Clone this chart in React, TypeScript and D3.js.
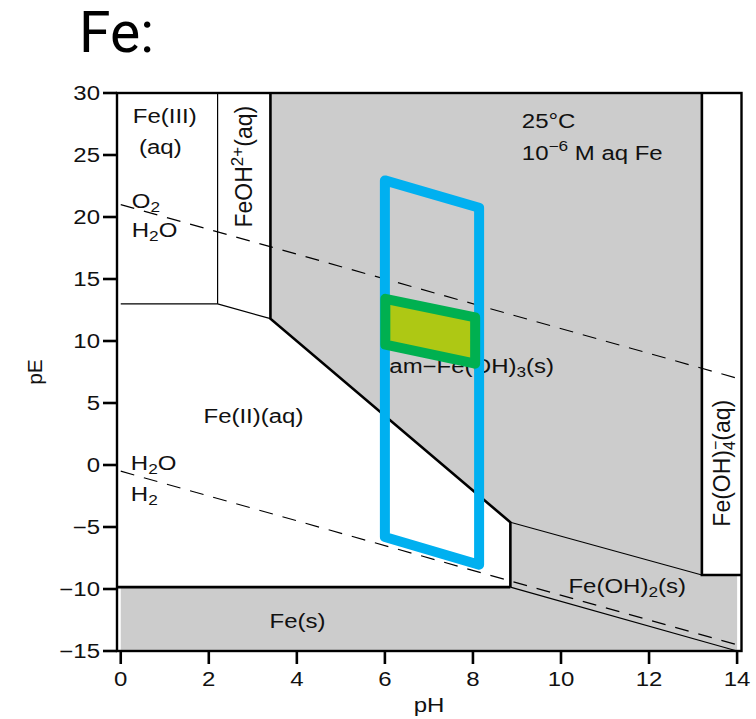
import React from "react";
import * as d3 from "d3";

// ---------- data (pH, pE) ----------
const xTicks = [0, 2, 4, 6, 8, 10, 12, 14];
const yTicks = [30, 25, 20, 15, 10, 5, 0, -5, -10, -15];

const feOH3Region: [number, number][] = [[3.4, 30], [13.2, 30], [13.2, -8.87], [8.85, -4.62], [3.4, 11.8]];
const lowerSolidRegion: [number, number][] = [[0, -9.85], [8.85, -9.85], [8.85, -4.62], [13.2, -8.87], [14, -8.87], [14, -15], [0, -15]];

const thickLines: [number, number][][] = [
  [[3.4, 30], [3.4, 11.8], [8.85, -4.62], [8.85, -9.85]],
  [[-0.085, -9.85], [8.85, -9.85]],
  [[13.2, 30], [13.2, -8.87], [14.1, -8.87]],
];
const thinLines: [number, number][][] = [
  [[0, 13], [2.2, 13], [3.4, 11.8]],
  [[2.2, 13], [2.2, 30]],
  [[8.85, -4.62], [13.2, -8.87]],
  [[8.85, -9.85], [14, -15]],
];
const o2Line: [number, number][] = [[0, 21], [14, 7]];
const h2Line: [number, number][] = [[0, -0.5], [14, -14.5]];

const blueBox: [number, number][] = [[6.0, 22.95], [8.14, 20.75], [8.14, -8.05], [6.0, -5.8]];
const greenBox: [number, number][] = [[6.01, 13.4], [8.05, 11.9], [8.05, 8.17], [6.01, 9.7]];

// ---------- layout ----------
const W = 756, H = 719;
const x = d3.scaleLinear().domain([-0.085, 14.1]).range([117, 741.5]);
const y = d3.scaleLinear().domain([-15, 30]).range([651, 93]);
const line = d3.line<[number, number]>().x(d => x(d[0])).y(d => y(d[1]));
const SX = 1.23;
const FONT = "'Liberation Sans', Arial, Helvetica, sans-serif";
const FS = 19.5;

type TP = { px: number; py: number; anchor?: string; rot?: boolean; size?: number; children: React.ReactNode };
const T = ({ px, py, anchor = "start", rot = false, size = FS, children }: TP) => (
  <g transform={rot ? `translate(${px},${py}) rotate(-90)` : `translate(${px},${py}) scale(${SX},1)`}>
    <text textAnchor={anchor} fontSize={size} fontFamily={FONT} fill="#111">{children}</text>
  </g>
);

export default function App() {
  return (
    <svg width={W} height={H} style={{ position: "absolute", left: 0, top: 0, background: "#fff" }}>
      <text x={79} y={51.7} fontSize={57} fontFamily="Roboto, 'Liberation Sans', sans-serif" fill="#000">Fe:</text>

      {/* regions */}
      <path d={line(feOH3Region) + "Z"} fill="#cccccc" />
      <path d={line(lowerSolidRegion) + "Z"} fill="#cccccc" />

      {thinLines.map((l, i) => <path key={"t" + i} d={line(l) || ""} fill="none" stroke="#000" strokeWidth={1.2} />)}
      {thickLines.map((l, i) => <path key={"k" + i} d={line(l) || ""} fill="none" stroke="#000" strokeWidth={2.6} />)}

      <path d={line(o2Line) || ""} fill="none" stroke="#000" strokeWidth={1.2} strokeDasharray="14 10" />
      <path d={line(h2Line) || ""} fill="none" stroke="#000" strokeWidth={1.2} strokeDasharray="14 10" />

      {/* labels */}
      <T px={x(1.0)} py={y(27.6)} anchor="middle">Fe(III)</T>
      <T px={x(0.9)} py={y(25.05)} anchor="middle">(aq)</T>
      <T px={x(0.25)} py={y(20.7)}>O<tspan fontSize={14} dy={4}>2</tspan></T>
      <T px={x(0.25)} py={y(18.41)}>H<tspan fontSize={14} dy={4}>2</tspan><tspan dy={-4}>O</tspan></T>
      <T px={x(2.99)} py={y(24.06)} anchor="middle" rot size={23}>FeOH<tspan fontSize={17} dy={-9}>2+</tspan><tspan dy={9}>(aq)</tspan></T>
      <T px={x(9.11)} py={y(27.15)}>25°C</T>
      <T px={x(9.11)} py={y(24.6)}>10<tspan fontSize={14} dy={-9}>−6</tspan><tspan dy={9}> M aq Fe</tspan></T>
      <T px={x(6.1)} py={y(7.4)}>am−Fe(OH)<tspan fontSize={14} dy={4}>3</tspan><tspan dy={-4}>(s)</tspan></T>
      <T px={x(1.88)} py={y(3.41)}>Fe(II)(aq)</T>
      <T px={x(0.23)} py={y(-0.4)}>H<tspan fontSize={14} dy={4}>2</tspan><tspan dy={-4}>O</tspan></T>
      <T px={x(0.23)} py={y(-2.88)}>H<tspan fontSize={14} dy={4}>2</tspan></T>
      <T px={x(3.38)} py={y(-13.12)}>Fe(s)</T>
      <T px={x(10.17)} py={y(-10.35)}>Fe(OH)<tspan fontSize={14} dy={4}>2</tspan><tspan dy={-4}>(s)</tspan></T>
      <T px={x(13.85)} py={y(0.14)} anchor="middle" rot size={23}>Fe(OH)<tspan fontSize={16} dy={5}>4</tspan><tspan fontSize={16} dx={-9} dy={-14}>−</tspan><tspan dy={9}>(aq)</tspan></T>

      {/* boxes */}
      <path d={line(blueBox) + "Z"} fill="none" stroke="#00b0f0" strokeWidth={10} strokeLinejoin="round" />
      <path d={line(greenBox) + "Z"} fill="#aec814" stroke="#00b050" strokeWidth={10} strokeLinejoin="round" />

      {/* frame & axes */}
      <rect x={117} y={93} width={741.5 - 117} height={651 - 93} fill="none" stroke="#000" strokeWidth={2.4} />
      {xTicks.map(t => (
        <g key={"x" + t}>
          <line x1={x(t)} x2={x(t)} y1={651} y2={664} stroke="#000" strokeWidth={2.6} />
          <T px={x(t)} py={686} anchor="middle">{t}</T>
        </g>
      ))}
      {yTicks.map(t => (
        <g key={"y" + t}>
          <line x1={103} x2={117} y1={y(t)} y2={y(t)} stroke="#000" strokeWidth={2.6} />
          <T px={100} py={y(t) + 7} anchor="end">{t < 0 ? "−" + Math.abs(t) : String(t)}</T>
        </g>
      ))}
      <T px={429} py={712} anchor="middle">pH</T>
      <T px={42} py={372} anchor="middle" rot size={21}>pE</T>
    </svg>
  );
}
